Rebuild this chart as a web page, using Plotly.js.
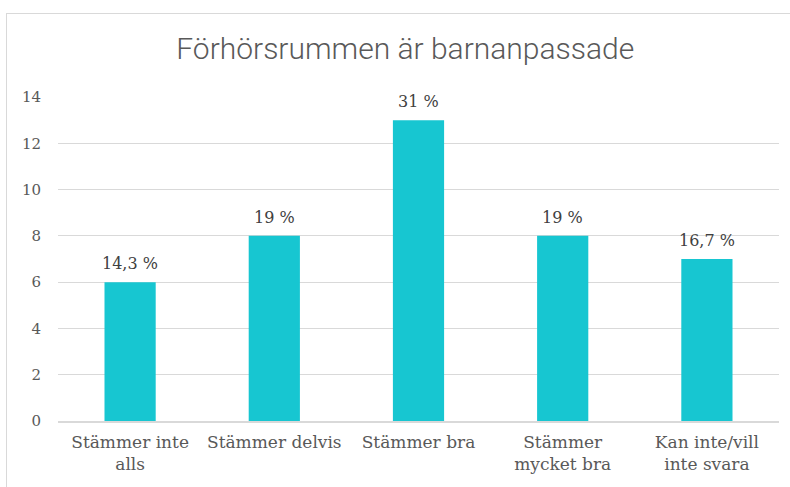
<!DOCTYPE html>
<html><head><meta charset="utf-8">
<script src="https://cdn.plot.ly/plotly-3.0.1.min.js"></script>
<style>
html,body{margin:0;padding:0;background:#fff;}
#wrap{position:relative;width:790px;height:487px;overflow:hidden;}
#chart{position:absolute;left:0;top:0;width:790px;height:487px;}
#frame{position:absolute;left:6px;top:13px;width:820px;height:520px;border:1.5px solid #d9d9d9;pointer-events:none;}
</style></head>
<body>
<div id="wrap"><div id="chart"></div><div id="frame"></div></div>
<script>
const categories = ["Stämmer inte<br>alls", "Stämmer delvis", "Stämmer bra", "Stämmer<br>mycket bra", "Kan inte/vill<br>inte svara"];
const counts = [6, 8, 13, 8, 7];
const percentLabels = ["14,3 %", "19 %", "31 %", "19 %", "16,7 %"];
const yTicks = [0, 2, 4, 6, 8, 10, 12, 14];

const serif = "DejaVu Serif, Liberation Serif, serif";
const annotations = categories.map((c, i) => ({
  x: c, y: counts[i], xref: "x", yref: "y",
  text: percentLabels[i], showarrow: false,
  yanchor: "bottom", yshift: 7,
  font: {family: serif, size: 16, color: "#404040"}
}));

Plotly.newPlot("chart", [{
  type: "bar",
  x: categories,
  y: counts,
  marker: {color: "#17c6d1"},
  hoverinfo: "none"
}], {
  width: 790, height: 487,
  margin: {l: 58, r: 11, t: 97, b: 66, pad: 0},
  paper_bgcolor: "rgba(0,0,0,0)",
  plot_bgcolor: "rgba(0,0,0,0)",
  bargap: 0.645,
  showlegend: false,
  annotations: annotations,
  title: {
    text: "Förhörsrummen är barnanpassade",
    font: {family: "Roboto, Inter, sans-serif", size: 30, color: "#595959", weight: 300},
    x: 0.513, xanchor: "center", xref: "container",
    y: 0.9, yanchor: "middle", yref: "container"
  },
  xaxis: {
    type: "category",
    tickfont: {family: serif, size: 17, color: "#595959"},
    ticks: "", showgrid: false,
    showline: true, linecolor: "#d9d9d9", linewidth: 1.5,
    ticklabelstandoff: 5,
    fixedrange: true
  },
  yaxis: {
    range: [0, 14],
    tickvals: yTicks,
    ticktext: yTicks.map(String),
    tickfont: {family: serif, size: 15, color: "#595959"},
    ticks: "",
    showgrid: true, gridcolor: "#d9d9d9", gridwidth: 1,
    zeroline: false, showline: false,
    ticklabelstandoff: 16,
    fixedrange: true
  }
}, {displayModeBar: false, staticPlot: true});
</script>
</body></html>
